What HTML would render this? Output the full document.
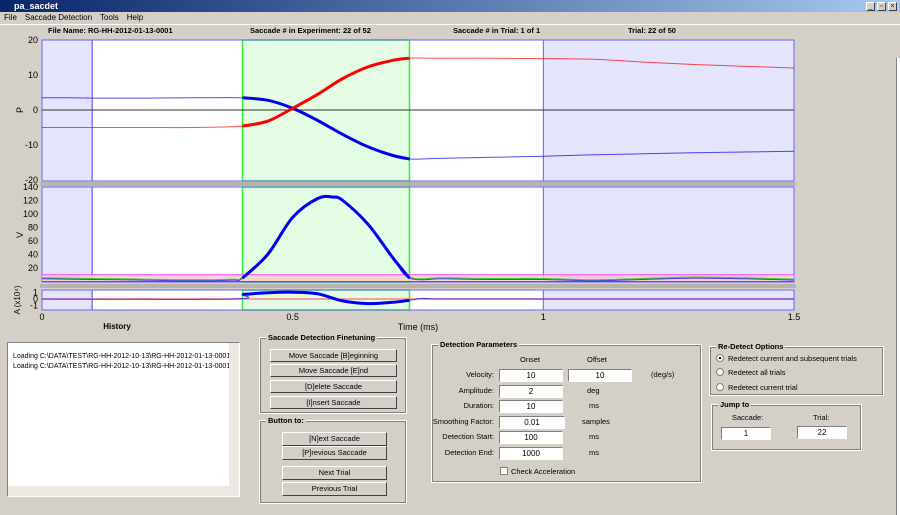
<!DOCTYPE html>
<html><head><meta charset="utf-8"><style>
*{box-sizing:border-box}
body{margin:0;width:900px;height:515px;overflow:hidden;background:#d4d0c8;font-family:"Liberation Sans",Arial,sans-serif;font-size:8px;position:relative}
.a{position:absolute}
.title{left:0;top:0;width:900px;height:12px;background:linear-gradient(90deg,#0a246a,#a6caf0);color:#fff;font-weight:bold;font-size:9px;padding-left:14px;line-height:12px}
.menu{left:0;top:12px;width:900px;height:12px;line-height:12px;font-size:8px}
.menu span{margin:0 4px}
.b{font-weight:bold;font-size:7.5px}
.fs{border:1px solid #fff;outline:1px solid #808080;outline-offset:-2px}
.leg{background:#d4d0c8;font-weight:bold;font-size:7.5px;padding:0 2px;top:-5px;left:6px;position:absolute}
.btn{position:absolute;background:#d4d0c8;border:1px solid;border-color:#fff #404040 #404040 #fff;text-align:center;font-size:7.5px;line-height:11px}
.inp{position:absolute;background:#fff;border:1px solid;border-color:#808080 #fff #fff #808080;text-align:center;font-size:8px;line-height:11px;height:13px}
.lbl{position:absolute;font-size:7.5px;text-align:right}
.wb{position:absolute;width:9px;height:9px;background:#d4d0c8;border:1px solid;border-color:#fff #404040 #404040 #fff;font-size:7px;line-height:7px;text-align:center;top:2px}
.radio{position:absolute;width:8px;height:8px;border-radius:50%;background:#fff;border:1px solid #808080}
</style></head><body>
<div class="a title">pa_sacdet</div>
<div class="wb" style="left:866px">_</div>
<div class="wb" style="left:877px">▫</div>
<div class="wb" style="left:888px">×</div>
<div class="a menu"><span>File</span><span>Saccade Detection</span><span>Tools</span><span>Help</span></div>
<div class="a" style="left:0;top:24px;width:900px;height:1px;background:#fff"></div>
<div class="a b" style="left:48px;top:26px">File Name: RG-HH-2012-01-13-0001</div>
<div class="a b" style="left:250px;top:26px">Saccade # in Experiment: 22 of 52</div>
<div class="a b" style="left:453px;top:26px">Saccade # in Trial: 1 of 1</div>
<div class="a b" style="left:628px;top:26px">Trial: 22 of 50</div>
<div class="a" style="left:896px;top:58px;width:4px;height:457px;background:#fff;border-left:1px solid #808080"></div>

<svg class="a" style="left:0;top:0" width="900" height="335" id="chart" font-family="Liberation Sans,Arial,sans-serif" font-size="9"></svg>

<div class="a" style="left:7px;top:342px;width:233px;height:155px;background:#fff;border:1px solid;border-color:#808080 #fff #fff #808080">
<div style="position:absolute;left:5px;top:9px;font-size:7px;line-height:10px;white-space:nowrap;width:218px;overflow:hidden">Loading C:\DATA\TEST\RG-HH-2012-10-13\RG-HH-2012-01-13-0001.HV<br>Loading C:\DATA\TEST\RG-HH-2012-10-13\RG-HH-2012-01-13-0001.LOG</div>
<div style="position:absolute;right:0;top:0;width:10px;height:153px;background:#ece9e2"></div>
<div style="position:absolute;left:0;bottom:0;width:231px;height:10px;background:#ece9e2"></div>
</div>

<div class="a fs" style="left:259px;top:337px;width:148px;height:77px"><span class="leg">Saccade Detection Finetuning</span></div>
<div class="btn" style="left:270px;top:349px;width:127px;height:13px">Move Saccade [B]eginning</div>
<div class="btn" style="left:270px;top:364px;width:127px;height:13px">Move Saccade [E]nd</div>
<div class="btn" style="left:270px;top:380px;width:127px;height:13px">[D]elete Saccade</div>
<div class="btn" style="left:270px;top:396px;width:127px;height:13px">[I]nsert Saccade</div>

<div class="a fs" style="left:259px;top:420px;width:148px;height:84px"><span class="leg">Button to:</span></div>
<div class="btn" style="left:282px;top:432px;width:105px;height:14px">[N]ext Saccade</div>
<div class="btn" style="left:282px;top:446px;width:105px;height:14px">[P]revious Saccade</div>
<div class="btn" style="left:282px;top:466px;width:105px;height:14px">Next Trial</div>
<div class="btn" style="left:282px;top:482px;width:105px;height:14px">Previous Trial</div>

<div class="a fs" style="left:431px;top:344px;width:271px;height:139px"><span class="leg">Detection Parameters</span></div>
<div class="lbl" style="left:520px;top:355px">Onset</div>
<div class="lbl" style="left:587px;top:355px">Offset</div>
<div class="lbl" style="left:420px;width:74px;top:370px">Velocity:</div>
<div class="inp" style="left:499px;top:369px;width:64px">10</div>
<div class="inp" style="left:568px;top:369px;width:64px">10</div>
<div class="lbl" style="left:651px;top:370px">(deg/s)</div>
<div class="lbl" style="left:420px;width:74px;top:386px">Amplitude:</div>
<div class="inp" style="left:499px;top:385px;width:64px">2</div>
<div class="lbl" style="left:587px;top:386px">deg</div>
<div class="lbl" style="left:420px;width:74px;top:401px">Duration:</div>
<div class="inp" style="left:499px;top:400px;width:64px">10</div>
<div class="lbl" style="left:589px;top:401px">ms</div>
<div class="lbl" style="left:420px;width:74px;top:417px">Smoothing Factor:</div>
<div class="inp" style="left:499px;top:416px;width:66px">0.01</div>
<div class="lbl" style="left:582px;top:417px">samples</div>
<div class="lbl" style="left:420px;width:74px;top:432px">Detection Start:</div>
<div class="inp" style="left:499px;top:431px;width:64px">100</div>
<div class="lbl" style="left:589px;top:432px">ms</div>
<div class="lbl" style="left:420px;width:74px;top:448px">Detection End:</div>
<div class="inp" style="left:499px;top:447px;width:64px">1000</div>
<div class="lbl" style="left:589px;top:448px">ms</div>
<div class="a" style="left:500px;top:467px;width:8px;height:8px;background:#fff;border:1px solid #808080"></div>
<div class="lbl" style="left:511px;top:467px">Check Acceleration</div>

<div class="a fs" style="left:709px;top:346px;width:175px;height:50px"><span class="leg">Re-Detect Options</span></div>
<div class="radio" style="left:716px;top:354px"><div style="width:2px;height:2px;background:#000;margin:2px"></div></div>
<div class="lbl" style="left:728px;top:354px">Redetect current and subsequent trials</div>
<div class="radio" style="left:716px;top:368px"></div>
<div class="lbl" style="left:728px;top:368px">Redetect all trials</div>
<div class="radio" style="left:716px;top:383px"></div>
<div class="lbl" style="left:728px;top:383px">Redetect current trial</div>

<div class="a fs" style="left:711px;top:404px;width:151px;height:47px"><span class="leg">Jump to</span></div>
<div class="lbl" style="left:732px;top:413px">Saccade:</div>
<div class="inp" style="left:721px;top:427px;width:50px">1</div>
<div class="lbl" style="left:813px;top:413px">Trial:</div>
<div class="inp" style="left:797px;top:426px;width:50px">22</div>

<script>
const posTime=[0,0.05,0.1,0.2,0.3,0.4,0.45,0.5,0.55,0.6,0.65,0.7,0.733,0.8,0.9,1.0,1.1,1.2,1.3,1.4,1.5];
const posBlue=[3.5,3.5,3.4,3.4,3.5,3.5,2.8,0.5,-3,-7,-10.5,-13,-14,-13.8,-13.5,-13.2,-12.8,-12.5,-12.2,-12,-11.8];
const posRed=[-5,-5,-5,-5,-5,-4.6,-3.2,0.5,4.5,9,12.3,14.2,14.8,14.8,14.8,14.7,14.5,13.7,13,12.5,12];
const velTime=[0,0.1,0.2,0.3,0.38,0.4,0.45,0.5,0.55,0.58,0.6,0.65,0.7,0.733,0.8,0.9,1.0,1.1,1.2,1.3,1.4,1.5];
const velValues=[4,3,2,1,2,5,40,95,123,125,120,85,35,5,4,3,3,1,3,5,4,2];
const accTime=[0,0.38,0.4,0.45,0.5,0.55,0.6,0.65,0.7,0.733,0.76,0.8,1.0,1.5];
const accValues=[0,0,0.7,0.95,1.05,0.8,-0.3,-0.7,-0.5,-0.2,0.1,0,0,0];
const xTicks=[0,0.5,1,1.5];
const pTicks=[20,10,0,-10,-20];
const vTicks=[20,40,60,80,100,120,140];
const aTicks=[1,0,-1];
const histEnd=0.1, sacStart=0.4, sacEnd=0.733, trialEnd=1.0;

const svg=document.getElementById('chart');
const NS='http://www.w3.org/2000/svg';
const X0=42,X1=794;
const x=t=>X0+(X1-X0)*t/1.5;
const yP=v=>110-v*3.5;
const yV=v=>281.5-v*0.675;
const yA=v=>299-v*6.5;
function el(tag,attrs,name,txt){const e=document.createElementNS(NS,tag);for(const k in attrs)e.setAttribute(k,attrs[k]);


if(txt!==undefined)e.textContent=txt;svg.appendChild(e);return e;}
function smooth(pts){
 if(pts.length<2)return '';
 let d='M'+pts[0][0].toFixed(1)+','+pts[0][1].toFixed(1);
 for(let i=0;i<pts.length-1;i++){
  const p0=pts[Math.max(0,i-1)],p1=pts[i],p2=pts[i+1],p3=pts[Math.min(pts.length-1,i+2)];
  const c1x=p1[0]+(p2[0]-p0[0])/6,c1y=p1[1]+(p2[1]-p0[1])/6;
  const c2x=p2[0]-(p3[0]-p1[0])/6,c2y=p2[1]-(p3[1]-p1[1])/6;
  d+='C'+c1x.toFixed(1)+','+c1y.toFixed(1)+' '+c2x.toFixed(1)+','+c2y.toFixed(1)+' '+p2[0].toFixed(1)+','+p2[1].toFixed(1);
 }
 return d;
}
function panel(top,bot,name){
 el('rect',{x:X0,y:top,width:X1-X0,height:bot-top,fill:'#fff',stroke:'none'},name+'-bg');
 el('rect',{x:X0,y:top,width:x(histEnd)-X0,height:bot-top,fill:'#e4e4fc',stroke:'#4040ff','stroke-width':1},name+'-history-region');
 el('rect',{x:x(sacStart),y:top,width:x(sacEnd)-x(sacStart),height:bot-top,fill:'#e4fce4',stroke:'#33ee33','stroke-width':1.5},name+'-saccade-region');
 el('rect',{x:x(trialEnd),y:top,width:X1-x(trialEnd),height:bot-top,fill:'#e4e4fc',stroke:'#6060ff','stroke-width':1},name+'-post-region');
 el('rect',{x:X0,y:top,width:X1-X0,height:bot-top,fill:'none',stroke:'#6666ff','stroke-width':1},name+'-frame');
}
function line(ts,vs,yf,color,name){
 const pts=ts.map((t,i)=>[x(t),yf(vs[i])]);
 el('path',{d:smooth(pts),fill:'none',stroke:color,'stroke-width':1,opacity:0.7},name);
 const sp=ts.map((t,i)=>[t,x(t),yf(vs[i])]).filter(p=>p[0]>=sacStart&&p[0]<=sacEnd).map(p=>[p[1],p[2]]);
 el('path',{d:smooth(sp),fill:'none',stroke:color,'stroke-width':3,'stroke-linejoin':'round'},name+'-saccade');
}
el('rect',{x:40,y:182,width:756,height:4,fill:'#b8b4ac'},'separator-1');
el('rect',{x:40,y:284,width:756,height:4,fill:'#b8b4ac'},'separator-2');
panel(40,181,'position-plot');
el('line',{x1:X0,x2:X1,y1:yP(0),y2:yP(0),stroke:'#333','stroke-width':1},'position-zero-line');
line(posTime,posBlue,yP,'#0000ee','position-horizontal-line');
line(posTime,posRed,yP,'#ff0000','position-vertical-line');
pTicks.forEach(v=>el('text',{x:38,y:yP(v)+3,'text-anchor':'end','font-size':9},'p-tick-label',v));
el('text',{x:20,y:113,'text-anchor':'middle','font-size':9,transform:'rotate(-90 20 110)'},'p-axis-title','P');
panel(187,282,'velocity-plot');
el('rect',{x:X0,y:yV(10),width:X1-X0,height:yV(0)-yV(10),fill:'#fcc8c8',opacity:0.8},'velocity-threshold-band');
el('line',{x1:X0,x2:X1,y1:yV(10),y2:yV(10),stroke:'#ff44ff'},'velocity-threshold-line');
el('line',{x1:X0,x2:X1,y1:yV(0),y2:yV(0),stroke:'#ff2020'},'velocity-baseline');
el('path',{d:smooth(velTime.map((t,i)=>[x(t),yV(velValues[i])-1])),fill:'none',stroke:'#33cc33','stroke-width':1},'velocity-raw-line');
line(velTime,velValues,yV,'#0000ee','velocity-line');
vTicks.forEach(v=>el('text',{x:38,y:yV(v)+3,'text-anchor':'end','font-size':9},'v-tick-label',v));
el('text',{x:20,y:238,'text-anchor':'middle','font-size':9,transform:'rotate(-90 20 235)'},'v-axis-title','V');
panel(290,310,'acceleration-plot');
el('line',{x1:X0,x2:X1,y1:yA(0),y2:yA(0),stroke:'#ff8080','stroke-width':1.5},'acceleration-zero-line');
line(accTime,accValues,yA,'#0000ee','acceleration-line');
aTicks.forEach(v=>el('text',{x:38,y:yA(v)+3,'text-anchor':'end','font-size':9},'a-tick-label',v));
el('text',{x:20,y:300,'text-anchor':'middle','font-size':8,transform:'rotate(-90 20 300)'},'a-axis-title','A (x10⁴)');
xTicks.forEach(v=>el('text',{x:x(v),y:320,'text-anchor':'middle','font-size':9},'x-tick-label',v));
el('text',{x:418,y:330,'text-anchor':'middle','font-size':9},'x-axis-title','Time (ms)');
el('text',{x:117,y:329,'text-anchor':'middle','font-size':8,'font-weight':'bold'},'history-label','History');
</script>
</body></html>
